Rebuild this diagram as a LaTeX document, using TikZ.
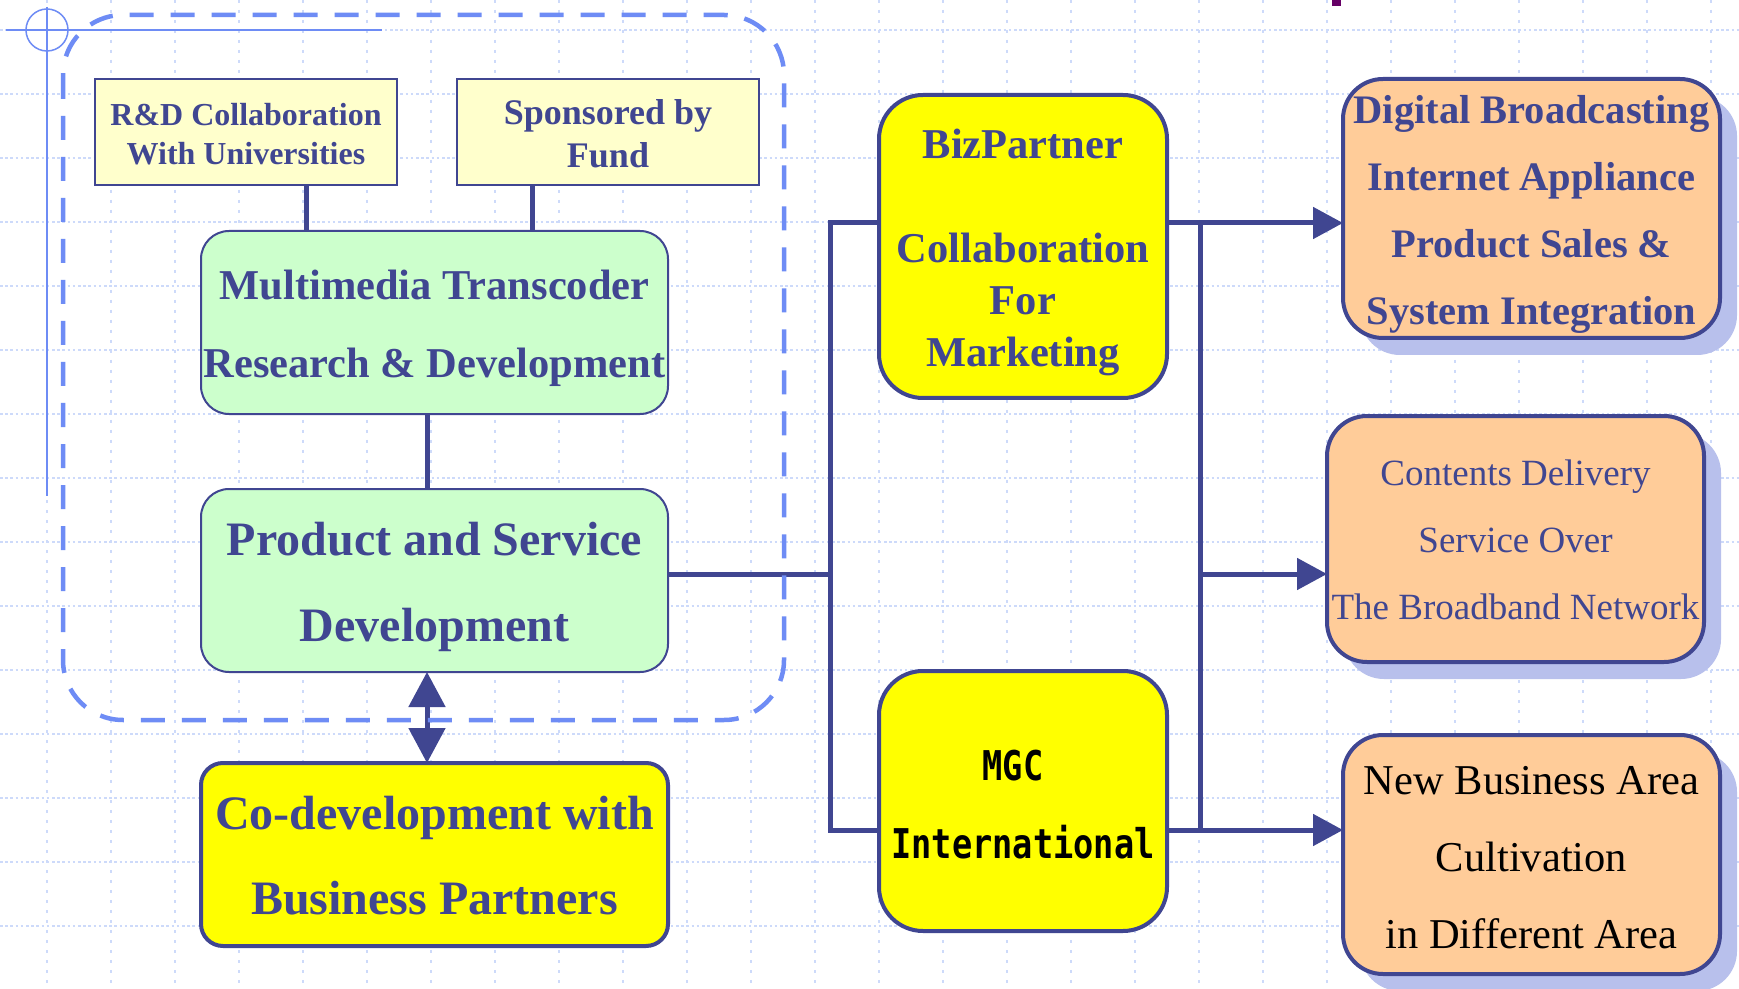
\documentclass[tikz,border=0pt]{standalone}
\usepackage{fontspec}
\setmainfont{Liberation Serif}
\newfontfamily\mgcfont[FakeStretch=0.82]{DejaVu Sans Mono}
\usetikzlibrary{arrows.meta,shadows}
\definecolor{dkb}{RGB}{64,70,145}
\definecolor{dashb}{RGB}{110,140,245}
\definecolor{gridb}{RGB}{205,218,250}
\definecolor{shadb}{RGB}{184,192,236}
\definecolor{lyel}{RGB}{255,255,204}
\definecolor{yel}{RGB}{255,255,0}
\definecolor{lgrn}{RGB}{204,255,204}
\definecolor{peach}{RGB}{255,204,153}
\definecolor{plum}{RGB}{102,0,102}
\begin{document}
\begin{tikzpicture}[x=0.5pt,y=-0.5pt,
  every node/.style={inner sep=0pt, outer sep=0pt, align=center},
  sqbox/.style={draw=dkb, line width=1pt, fill=lyel},
  grbox/.style={draw=dkb, line width=1pt, fill=lgrn, rounded corners=14pt},
  ylbox/.style={draw=dkb, line width=2pt, fill=yel},
  pcbox/.style={draw=dkb, line width=2pt, fill=peach, rounded corners=20pt,
     drop shadow={shadow xshift=8.5pt, shadow yshift=-8.5pt, fill=shadb, opacity=1}},
  lbl/.style={text=dkb},
  conn/.style={draw=dkb, line width=2.5pt},
  tipa/.style={-{Triangle[length=15pt,width=15.5pt]}},
  dtip/.style={{Triangle[length=17.5pt,width=18pt]}-{Triangle[length=17.5pt,width=18pt]}},
  gridh/.style={draw=gridb, line width=0.9pt, dash pattern=on 1.3pt off 1.3pt},
  gridv/.style={draw=gridb, line width=0.9pt, dash pattern=on 1.3pt off 3.7pt},
]
\useasboundingbox (0,0) rectangle (1739,989);
\clip (0,0) rectangle (1739,989);
\fill[white] (0,0) rectangle (1739,989);
% grid
\foreach \k in {0,...,15} \draw[gridh] (0,30+64*\k) -- (1739,30+64*\k);
\foreach \k in {0,...,26} \draw[gridv] (47+64*\k,0) -- (47+64*\k,989);
% crosshair
\draw[dashb, line width=0.75pt] (47,30) circle[radius=21];
\draw[dashb, line width=0.75pt] (6,30) -- (382,30);
\draw[dashb, line width=0.75pt] (47,7) -- (47,496);
\fill[plum] (1332,0) rectangle (1341,6);
% boxes
\node[sqbox, minimum width=151pt, minimum height=53pt] (rd) at (246,132) {};
\node[sqbox, minimum width=151pt, minimum height=53pt] (sp) at (608,132) {};
\node[grbox, minimum width=233.5pt, minimum height=91.5pt] (mm) at (434.5,322.5) {};
\node[grbox, minimum width=233.5pt, minimum height=91.5pt] (pr) at (434.5,580.5) {};
\node[ylbox, rounded corners=11pt, minimum width=233.5pt, minimum height=91.5pt] (co) at (434.5,854.5) {};
\node[ylbox, rounded corners=22pt, minimum width=144pt, minimum height=151.5pt] (biz) at (1023,246.5) {};
\node[ylbox, rounded corners=22pt, minimum width=144pt, minimum height=130pt] (mgc) at (1023,801) {};
\node[pcbox, minimum width=188.5pt, minimum height=129.5pt] (dig) at (1531.5,208.5) {};
\node[pcbox, minimum width=188.5pt, minimum height=123pt] (cnt) at (1515.5,539) {};
\node[pcbox, minimum width=188.5pt, minimum height=119.5pt] (nb) at (1531.5,854.5) {};
% texts
\node[lbl, font=\bfseries\fontsize{16pt}{19.5pt}\selectfont] (rdT) at ([yshift=-1pt]rd.center)
  {R\&D Collaboration\\With Universities};
\node[lbl, font=\bfseries\fontsize{18pt}{21.5pt}\selectfont] (spT) at ([yshift=-1pt]sp.center)
  {Sponsored by\\Fund};
\node[lbl, font=\bfseries\fontsize{21.25pt}{39pt}\selectfont] (mmT) at ([yshift=-2.75pt]mm.center)
  {Multimedia Transcoder\\Research \& Development};
\node[lbl, font=\bfseries\fontsize{24pt}{43pt}\selectfont] (prT) at ([yshift=-3pt]pr.center)
  {Product and Service\\Development};
\node[lbl, font=\bfseries\fontsize{24pt}{42.5pt}\selectfont] (coT) at ([yshift=-0.5pt]co.center)
  {Co-development with\\Business Partners};
\node[lbl, font=\bfseries\fontsize{21.25pt}{26pt}\selectfont] (bizT) at ([yshift=-3pt]biz.center)
  {BizPartner\\[26pt]Collaboration\\For\\Marketing};
\node[text=black, font=\mgcfont\bfseries\fontsize{20.5pt}{39pt}\selectfont] (mgcT) at ([yshift=-2pt]mgc.center)
  {MGC\hspace*{10pt}\\International};
\node[lbl, font=\bfseries\fontsize{20.25pt}{33.5pt}\selectfont] (digT) at ([yshift=-2.75pt]dig.center)
  {Digital Broadcasting\\Internet Appliance\\Product Sales \&\\System Integration};
\node[lbl, font=\fontsize{18.5pt}{33.5pt}\selectfont] (cntT) at ([yshift=-0.5pt]cnt.center)
  {Contents Delivery\\Service Over\\The Broadband Network};
\node[text=black, font=\fontsize{21.25pt}{38.5pt}\selectfont] (nbT) at ([yshift=-1.5pt]nb.center)
  {New Business Area\\Cultivation\\in Different Area};
% junctions
\coordinate (jL) at (830,574);
\coordinate (tL) at (830,223);
\coordinate (bL) at (830,830);
\coordinate (tR) at (1200,223);
\coordinate (mR) at (1200,574);
\coordinate (bR) at (1200,830);
% connectors
\draw[conn] ([xshift=30pt]rd.south) -- ([xshift=30pt]rd.south |- mm.north);
\draw[conn] ([xshift=-38pt]sp.south) -- ([xshift=-38pt]sp.south |- mm.north);
\draw[conn] ([xshift=-3.75pt]mm.south) -- ([xshift=-3.75pt]mm.south |- pr.north);
\draw[conn, dtip] ([xshift=-3.75pt]pr.south) -- ([xshift=-3.75pt]pr.south |- co.north);
\draw[conn] (pr.east |- jL) -- (jL);
\draw[conn] (biz.west |- tL) -- (tL) -- (bL) -- (mgc.west |- bL);
\draw[conn, tipa] (biz.east |- tL) -- (dig.west |- tL);
\draw[conn] (tR) -- (bR);
\draw[conn, tipa] (mR) -- (cnt.west |- mR);
\draw[conn, tipa] (mgc.east |- bL) -- (nb.west |- bL);
% dashed group
\draw[dashb, line width=2.25pt, dash pattern=on 12pt off 8.5pt, rounded corners=30pt]
  (63,15) rectangle (784,720);
\end{tikzpicture}
\end{document}
